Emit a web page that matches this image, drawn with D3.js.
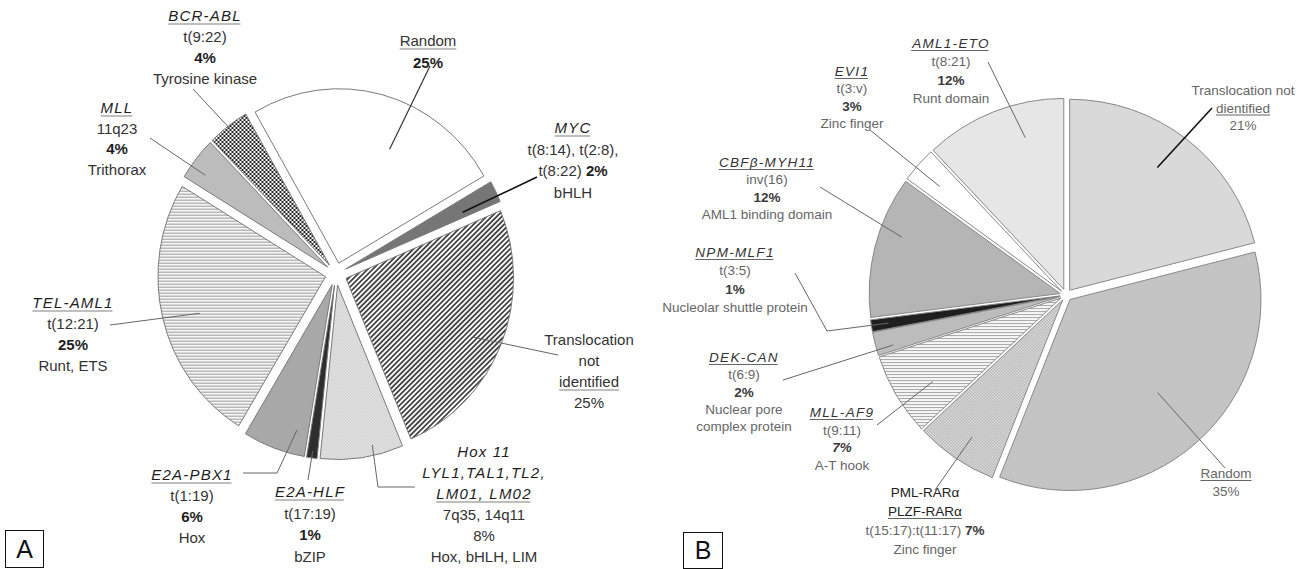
<!DOCTYPE html>
<html>
<head>
<meta charset="utf-8">
<script src="https://cdn.jsdelivr.net/npm/d3@7"></script>
<style>
  html, body { margin: 0; padding: 0; background: #fff; }
  svg { display: block; }
  text { font-family: "Liberation Sans", Arial, sans-serif; }
</style>
</head>
<body>
<svg id="chart" width="1304" height="569"></svg>
<script>
// ---------- Panel A: ALL ----------
const categoriesA = ["Random", "MYC", "Translocation not identified", "Hox 11 / LYL1, TAL1, TL2, LM01, LM02",
  "E2A-HLF", "E2A-PBX1", "TEL-AML1", "MLL", "BCR-ABL"];
const valuesA = [25, 2, 25, 8, 1, 6, 25, 4, 4];
const labelsA = [
  ["Random", "25%"],
  ["MYC", "t(8:14), t(2:8),", "t(8:22) 2%", "bHLH"],
  ["Translocation", "not", "identified", "25%"],
  ["Hox 11", "LYL1,TAL1,TL2,", "LM01, LM02", "7q35, 14q11", "8%", "Hox, bHLH, LIM"],
  ["E2A-HLF", "t(17:19)", "1%", "bZIP"],
  ["E2A-PBX1", "t(1:19)", "6%", "Hox"],
  ["TEL-AML1", "t(12:21)", "25%", "Runt, ETS"],
  ["MLL", "11q23", "4%", "Trithorax"],
  ["BCR-ABL", "t(9:22)", "4%", "Tyrosine kinase"]
];

// ---------- Panel B: AML ----------
const categoriesB = ["Translocation not identified", "Random", "PML-RARα / PLZF-RARα", "MLL-AF9", "DEK-CAN",
  "NPM-MLF1", "CBFβ-MYH11", "EVI1", "AML1-ETO"];
const valuesB = [21, 35, 7, 7, 2, 1, 12, 3, 12];
const labelsB = [
  ["Translocation not", "dientified", "21%"],
  ["Random", "35%"],
  ["PML-RARα", "PLZF-RARα", "t(15:17):t(11:17) 7%", "Zinc finger"],
  ["MLL-AF9", "t(9:11)", "7%", "A-T hook"],
  ["DEK-CAN", "t(6:9)", "2%", "Nuclear pore", "complex protein"],
  ["NPM-MLF1", "t(3:5)", "1%", "Nucleolar shuttle protein"],
  ["CBFβ-MYH11", "inv(16)", "12%", "AML1 binding domain"],
  ["EVI1", "t(3:v)", "3%", "Zinc finger"],
  ["AML1-ETO", "t(8:21)", "12%", "Runt domain"]
];

const panelLetters = ["A", "B"];

// ---------- layout & styling ----------
const deg = Math.PI / 180;
const svg = d3.select("#chart");
const defs = svg.append("defs");

const pieA = { cx: 336, cy: 274, r: 171, explode: 11, sx: 0.98, sy: 1.02, start: -30 * deg, stroke: "#7a7a7a" };
const pieB = { cx: 1066, cy: 295, r: 191, explode: 6, sx: 1, sy: 1, start: 0, stroke: "#888" };

// tiny fill patterns, kept at screen scale even inside a stretched group
function pattern(id, w, h, pie, extra, draw) {
  const p = defs.append("pattern").attr("id", id)
    .attr("patternUnits", "userSpaceOnUse").attr("width", w).attr("height", h)
    .attr("patternTransform", `scale(${1 / pie.sx},${1 / pie.sy}) ${extra || ""}`);
  draw(p, w, h);
}
function dots(bg, fg) {
  return (p) => {
    p.append("rect").attr("width", 2).attr("height", 2).attr("fill", bg);
    p.append("rect").attr("width", 1).attr("height", 1).attr("fill", fg);
    p.append("rect").attr("x", 1).attr("y", 1).attr("width", 1).attr("height", 1).attr("fill", fg);
  };
}
function checker(bg, fg, s) {
  return (p) => {
    p.append("rect").attr("width", 2 * s).attr("height", 2 * s).attr("fill", bg);
    p.append("rect").attr("width", s).attr("height", s).attr("fill", fg);
    p.append("rect").attr("x", s).attr("y", s).attr("width", s).attr("height", s).attr("fill", fg);
  };
}
function hlines(color, period, lw) {
  return (p) => {
    p.append("rect").attr("width", period).attr("height", period).attr("fill", "#fff");
    p.append("line").attr("x1", 0).attr("x2", period).attr("y1", period / 2).attr("y2", period / 2)
      .attr("stroke", color).attr("stroke-width", lw);
  };
}
function vlines(color, period, lw) {
  return (p) => {
    p.append("rect").attr("width", period).attr("height", period).attr("fill", "#fff");
    p.append("line").attr("y1", 0).attr("y2", period).attr("x1", period / 2).attr("x2", period / 2)
      .attr("stroke", color).attr("stroke-width", lw);
  };
}

pattern("hatchA", 3.6, 3.6, pieA, "rotate(45)", vlines("#383838", 3.6, 1.7));
pattern("lightGridA", 3, 3, pieA, "", checker("#c2c2c2", "#f4f4f4", 1.5));
pattern("midDotA", 2, 2, pieA, "", dots("#c6c6c6", "#8a8a8a"));
pattern("rulesA", 3, 3, pieA, "", hlines("#9c9c9c", 3, 1.2));
pattern("greyDotA", 2, 2, pieA, "", dots("#d6d6d6", "#a2a2a2"));
pattern("boldCheckA", 4, 4, pieA, "", checker("#fff", "#1c1c1c", 2));

pattern("paleDotB", 2, 2, pieB, "", dots("#f6f6f6", "#d6d6d6"));
pattern("lightDotB", 2, 2, pieB, "", dots("#eeeeee", "#c4c4c4"));
pattern("midDotB", 2, 2, pieB, "", dots("#dcdcdc", "#ababab"));
pattern("checkB", 3, 3, pieB, "", checker("#ececec", "#a6a6a6", 1.5));
pattern("rulesB", 3, 3, pieB, "", hlines("#a8a8a8", 3, 1.2));
pattern("darkDotB", 2, 2, pieB, "", dots("#cdcdcd", "#9c9c9c"));

const fillsA = ["#fff", "#767676", "url(#hatchA)", "url(#lightGridA)", "#2e2e2e",
  "url(#midDotA)", "url(#rulesA)", "url(#greyDotA)", "url(#boldCheckA)"];
const fillsB = ["url(#lightDotB)", "url(#midDotB)", "url(#checkB)", "url(#rulesB)", "#bcbcbc",
  "#1f1f1f", "url(#darkDotB)", "#fff", "url(#paleDotB)"];

// label placement: anchor x, first baseline, line step, line roles, leader bends, leader tip in slice
const layoutA = [
  { x: 428, y: 46, lh: 22, roles: ["u", "p"], lead: [[430, 66]], tip: [0.61, 0.72], lc: "#333", lw: 1.2 },
  { x: 573, y: 133, lh: 21.5, roles: ["n", "s", "sp", "s"], lead: [[537, 177]], tip: [0.7, 0.77], lc: "#111", lw: 1.6 },
  { x: 589, y: 345, lh: 21, roles: ["s", "s", "u", "s"], lead: [[558, 355]], tip: [0.52, 0.83] },
  { x: 484, y: 457, lh: 21, roles: ["i", "i", "n", "s", "s", "s"], lead: [[415, 487], [378, 487]], tip: [0.35, 0.94] },
  { x: 310, y: 497, lh: 21.5, roles: ["n", "s", "p", "s"], lead: [[308, 480]], tip: [0.5, 0.96] },
  { x: 192, y: 480, lh: 21, roles: ["n", "s", "p", "s"], lead: [[243, 473], [277, 473]], tip: [0.21, 0.86] },
  { x: 73, y: 308, lh: 21, roles: ["n", "s", "p", "s"], lead: [[110, 325]], tip: [0.48, 0.78] },
  { x: 117, y: 113, lh: 20.7, roles: ["n", "s", "p", "s"], lead: [[150, 138]], tip: [0.32, 0.9] },
  { x: 205, y: 21, lh: 21, roles: ["n", "s", "p", "s"], lead: [[193, 89]], tip: [0.5, 0.98] }
];
const layoutB = [
  { x: 1243, y: 95, lh: 17.5, roles: ["s", "u", "s"], lead: [[1212, 108]], tip: [0.47, 0.79], lc: "#111", lw: 1.6 },
  { x: 1226, y: 478, lh: 18, roles: ["u", "s"], lead: [[1225, 468]], tip: [0.485, 0.67] },
  { x: 925, y: 497, lh: 19, roles: ["d", "du", "sp", "s"], lead: [[935, 490]], tip: [0.47, 0.86] },
  { x: 842, y: 417, lh: 17.7, roles: ["n", "s", "pi", "s"], lead: [[877, 425]], tip: [0.4, 0.8] },
  { x: 744, y: 362, lh: 17.3, roles: ["n", "s", "p", "s", "s"], lead: [[783, 380]], tip: [0.25, 0.91] },
  { x: 735, y: 257, lh: 18.3, roles: ["n", "s", "p", "s"], lead: [[795, 273], [827, 331]], tip: [0.5, 0.91] },
  { x: 767, y: 167, lh: 17.3, roles: ["n", "s", "p", "s"], lead: [[820, 187]], tip: [0.62, 0.88] },
  { x: 852, y: 76, lh: 17.3, roles: ["n", "s", "p", "s"], lead: [[870, 130]], tip: [0.43, 0.84] },
  { x: 951, y: 48, lh: 18.3, roles: ["n", "s", "p", "s"], lead: [[988, 62]], tip: [0.67, 0.82] }
];

const themeA = { size: 15, sub: "#333", name: "#1e1e1e", pct: "#1e1e1e", ls: 1.2, uColor: "#808080", uOff: 3 };
const themeB = { size: 13.5, sub: "#666", name: "#333", pct: "#3a3a3a", ls: 1.3, uColor: "#666", uOff: 2.5 };

function drawPie(pie, values, fills) {
  const gen = d3.pie().sort(null).value(d => d)
    .startAngle(pie.start).endAngle(pie.start + 2 * Math.PI);
  const arcs = gen(values);
  const arc = d3.arc().innerRadius(0).outerRadius(pie.r);
  const g = svg.append("g").attr("transform", `translate(${pie.cx},${pie.cy}) scale(${pie.sx},${pie.sy})`);
  arcs.forEach(a => {
    const mid = (a.startAngle + a.endAngle) / 2;
    a.ox = pie.explode * Math.sin(mid);
    a.oy = -pie.explode * Math.cos(mid);
  });
  g.selectAll("path").data(arcs).join("path")
    .attr("transform", d => `translate(${d.ox},${d.oy})`)
    .attr("d", arc)
    .attr("fill", (d, i) => fills[i])
    .attr("stroke", pie.stroke)
    .attr("stroke-width", 1)
    .attr("stroke-linejoin", "round")
    .attr("vector-effect", "non-scaling-stroke");
  return arcs;
}

// point inside a slice: fraction t across its angle, fraction rf of the radius
function slicePoint(pie, a, t, rf) {
  const ang = a.startAngle + t * (a.endAngle - a.startAngle);
  const lx = rf * pie.r * Math.sin(ang) + a.ox;
  const ly = -rf * pie.r * Math.cos(ang) + a.oy;
  return [pie.cx + pie.sx * lx, pie.cy + pie.sy * ly];
}

function drawLabels(pie, arcs, labels, layout, theme) {
  const textLayer = svg.append("g");
  labels.forEach((lines, k) => {
    const lay = layout[k];
    lines.forEach((s, i) => {
      const role = lay.roles[i];
      const y = lay.y + i * lay.lh;
      const t = textLayer.append("text")
        .attr("x", lay.x).attr("y", y)
        .attr("text-anchor", "middle")
        .attr("font-size", theme.size);
      if (role === "n" || role === "i") {
        t.attr("font-style", "italic").attr("fill", theme.name).attr("letter-spacing", theme.ls).text(s);
      } else if (role === "p" || role === "pi") {
        t.attr("font-weight", "bold").attr("fill", theme.pct).text(s);
        if (role === "pi") t.attr("font-style", "italic");
      } else if (role === "sp") {
        const cut = s.lastIndexOf(" ");
        t.attr("fill", theme.sub);
        t.append("tspan").text(s.slice(0, cut + 1));
        t.append("tspan").attr("font-weight", "bold").attr("fill", theme.pct).text(s.slice(cut + 1));
      } else if (role === "d" || role === "du") {
        t.attr("fill", "#222").text(s);
      } else {
        t.attr("fill", theme.sub).text(s);
      }
      if (role === "n" || role === "u" || role === "du") {
        const bb = t.node().getBBox();
        const trim = role === "n" ? theme.ls : 0;
        textLayer.append("line")
          .attr("x1", bb.x).attr("x2", bb.x + bb.width - trim)
          .attr("y1", y + theme.uOff).attr("y2", y + theme.uOff)
          .attr("stroke", theme.uColor).attr("stroke-width", 1.2);
      }
    });
  });
  // leader lines, drawn over the text
  const leadLayer = svg.append("g").attr("fill", "none");
  layout.forEach((lay, k) => {
    const tip = slicePoint(pie, arcs[k], lay.tip[0], lay.tip[1]);
    const pts = lay.lead.concat([tip]);
    leadLayer.append("path")
      .attr("d", d3.line()(pts))
      .attr("stroke", lay.lc || "#666")
      .attr("stroke-width", lay.lw || 1);
  });
}

const arcsA = drawPie(pieA, valuesA, fillsA);
const arcsB = drawPie(pieB, valuesB, fillsB);
drawLabels(pieA, arcsA, labelsA, layoutA, themeA);
drawLabels(pieB, arcsB, labelsB, layoutB, themeB);

// panel letters in boxes
const boxes = [{ x: 5, y: 530, w: 38, h: 37 }, { x: 683, y: 532, w: 39, h: 36 }];
boxes.forEach((b, i) => {
  svg.append("rect").attr("x", b.x + 0.5).attr("y", b.y + 0.5).attr("width", b.w).attr("height", b.h)
    .attr("fill", "#fff").attr("stroke", "#111").attr("stroke-width", 1);
  svg.append("text").attr("x", b.x + b.w / 2 + 0.5).attr("y", b.y + b.h - 9)
    .attr("text-anchor", "middle").attr("font-size", 25).attr("fill", "#111")
    .text(panelLetters[i]);
});
</script>
</body>
</html>
